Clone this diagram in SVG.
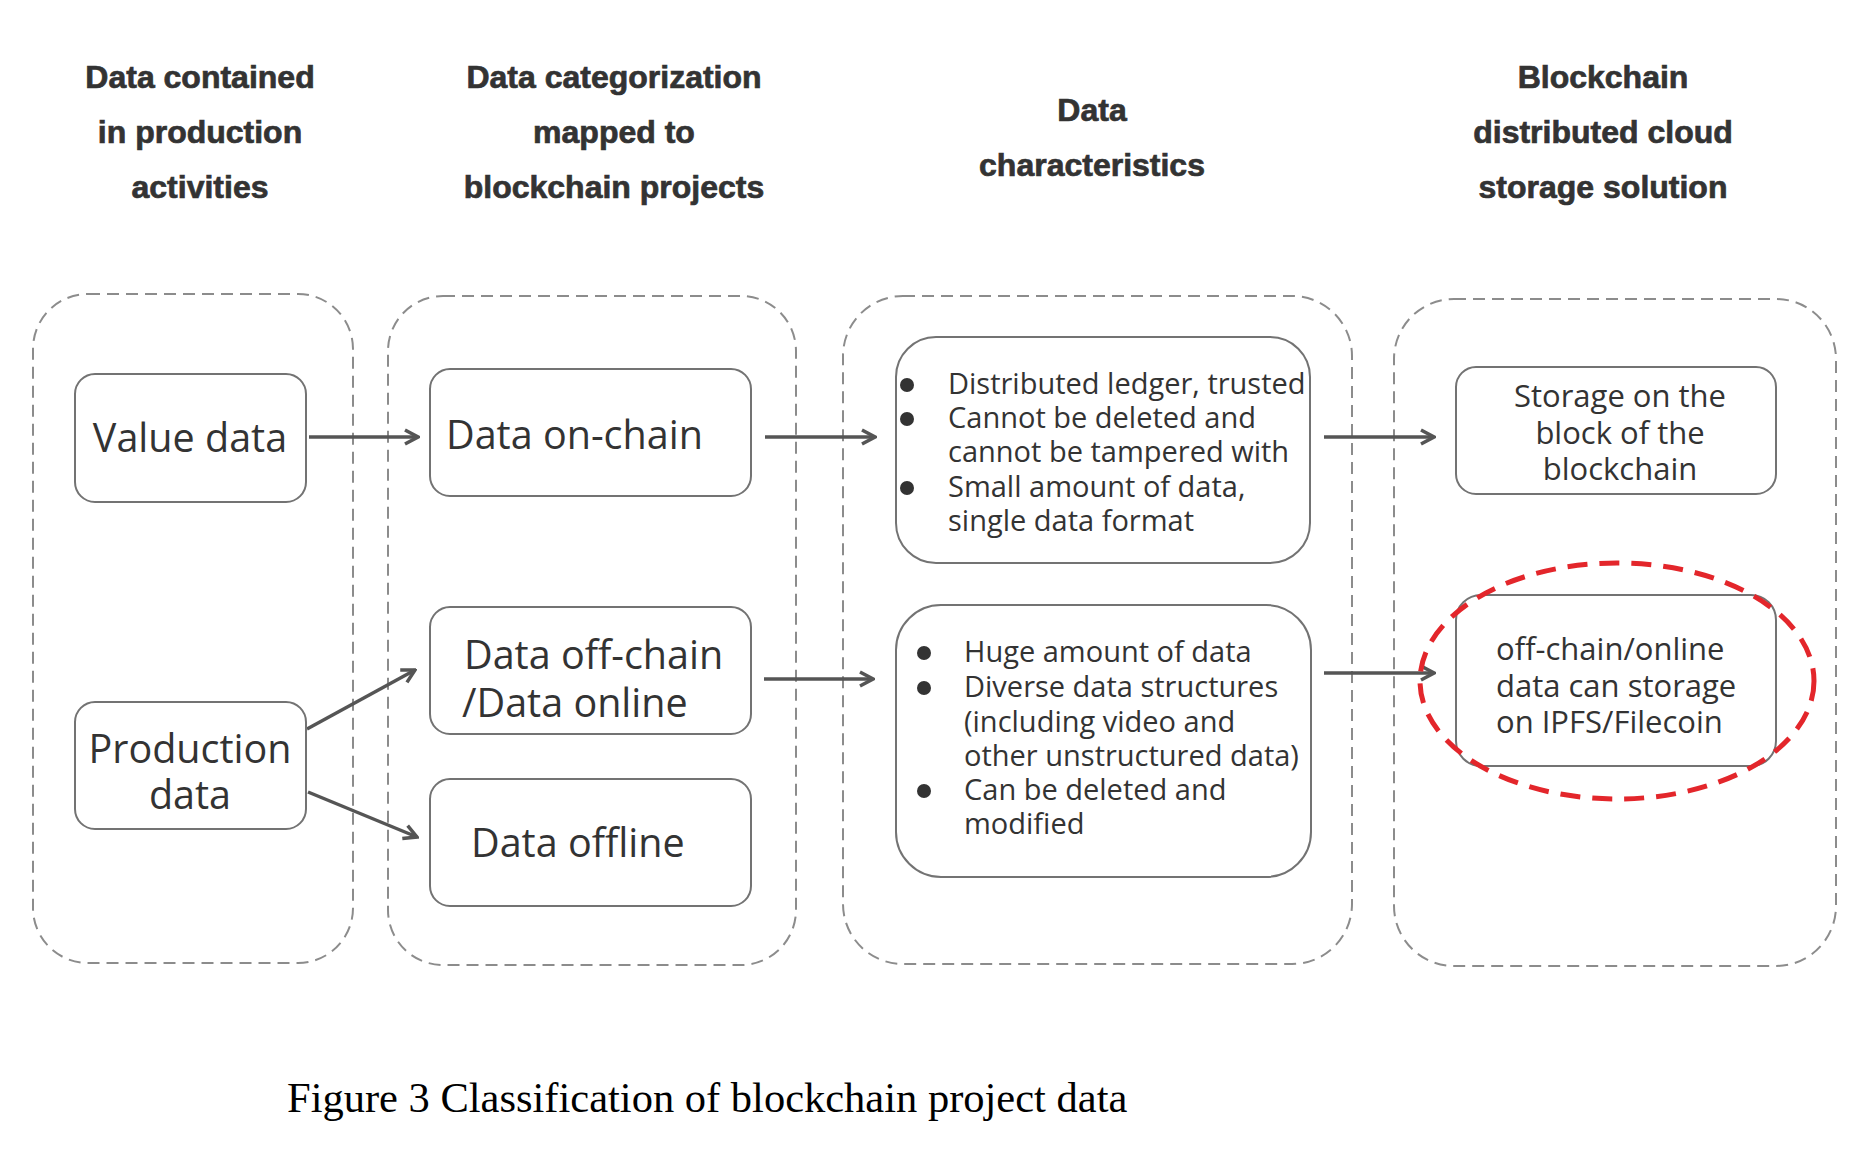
<svg xmlns="http://www.w3.org/2000/svg" width="1874" height="1176" viewBox="0 0 1874 1176">
<defs>
<style>
.grp{fill:none;stroke:#8c8c8c;stroke-width:2;stroke-dasharray:12 7}
.box{fill:#fff;stroke:#737373;stroke-width:2}
.hdr{font-family:"Liberation Sans",Arial,sans-serif;font-weight:bold;font-size:32px;fill:#333;stroke:#333;stroke-width:0.7px;text-anchor:middle}
.big{font-family:"Open Sans","Liberation Sans",sans-serif;font-size:39.5px;fill:#333}
.mid{font-family:"Open Sans","Liberation Sans",sans-serif;font-size:29px;fill:#333}
.rt{font-family:"Open Sans","Liberation Sans",sans-serif;font-size:31px;fill:#333}
.bul{fill:#333}
.con{fill:none;stroke:#555;stroke-width:3.5;marker-end:url(#arr)}
</style>
<marker id="arr" viewBox="0 0 18 18" refX="16" refY="9" markerWidth="18" markerHeight="18" markerUnits="userSpaceOnUse" orient="auto">
<path d="M3,2 L16,9 L3,16" fill="none" stroke="#555" stroke-width="3.5"/>
</marker>
</defs>
<rect width="1874" height="1176" fill="#fff"/>

<g id="headers">
<text class="hdr" x="200" y="88">Data contained</text>
<text class="hdr" x="200" y="143">in production</text>
<text class="hdr" x="200" y="198">activities</text>
<text class="hdr" x="614" y="88">Data categorization</text>
<text class="hdr" x="614" y="143">mapped to</text>
<text class="hdr" x="614" y="198">blockchain projects</text>
<text class="hdr" x="1092" y="121">Data</text>
<text class="hdr" x="1092" y="176">characteristics</text>
<text class="hdr" x="1603" y="88">Blockchain</text>
<text class="hdr" x="1603" y="143">distributed cloud</text>
<text class="hdr" x="1603" y="198">storage solution</text>
</g>

<g id="groups">
<rect id="group1" class="grp" x="33" y="294" width="320" height="669" rx="55"/>
<rect id="group2" class="grp" x="388" y="296" width="408" height="669" rx="55"/>
<rect id="group3" class="grp" x="843" y="296" width="509" height="668" rx="60"/>
<rect id="group4" class="grp" x="1394" y="299" width="442" height="667" rx="60"/>
</g>

<g id="connectors">
<line class="con" x1="309" y1="437" x2="418" y2="437"/>
<line class="con" x1="307" y1="729" x2="415" y2="670"/>
<line class="con" x1="308" y1="792" x2="417" y2="837"/>
<line class="con" x1="765" y1="437" x2="875" y2="437"/>
<line class="con" x1="764" y1="679" x2="873" y2="679"/>
<line class="con" x1="1324" y1="437" x2="1434" y2="437"/>
<line class="con" x1="1324" y1="673" x2="1434" y2="673"/>
</g>

<g id="value-data">
<rect class="box" x="75" y="374" width="231" height="128" rx="20"/>
<text class="big" x="190" y="452" text-anchor="middle">Value data</text>
</g>
<g id="production-data">
<rect class="box" x="75" y="702" width="231" height="127" rx="20"/>
<text class="big" x="190" y="763" text-anchor="middle">Production</text>
<text class="big" x="190" y="809" text-anchor="middle">data</text>
</g>
<g id="data-on-chain">
<rect class="box" x="430" y="369" width="321" height="127" rx="20"/>
<text class="big" x="446" y="449">Data on-chain</text>
</g>
<g id="data-off-chain">
<rect class="box" x="430" y="607" width="321" height="127" rx="20"/>
<text class="big" x="464" y="669">Data off-chain</text>
<text class="big" x="462" y="717">/Data online</text>
</g>
<g id="data-offline">
<rect class="box" x="430" y="779" width="321" height="127" rx="20"/>
<text class="big" x="471" y="857">Data offline</text>
</g>
<g id="chars-on-chain">
<rect class="box" x="896" y="337" width="414" height="226" rx="40"/>
<circle class="bul" cx="907" cy="385" r="7"/>
<circle class="bul" cx="907" cy="419" r="7"/>
<circle class="bul" cx="907" cy="488" r="7"/>
<text class="mid" x="948" y="394">Distributed ledger, trusted</text>
<text class="mid" x="948" y="428">Cannot be deleted and</text>
<text class="mid" x="948" y="462">cannot be tampered with</text>
<text class="mid" x="948" y="497">Small amount of data,</text>
<text class="mid" x="948" y="531">single data format</text>
</g>
<g id="chars-off-chain">
<rect class="box" x="896" y="605" width="415" height="272" rx="45"/>
<circle class="bul" cx="924" cy="653" r="7"/>
<circle class="bul" cx="924" cy="688" r="7"/>
<circle class="bul" cx="924" cy="791" r="7"/>
<text class="mid" x="964" y="662">Huge amount of data</text>
<text class="mid" x="964" y="697">Diverse data structures</text>
<text class="mid" x="964" y="732">(including video and</text>
<text class="mid" x="964" y="766">other unstructured data)</text>
<text class="mid" x="964" y="800">Can be deleted and</text>
<text class="mid" x="964" y="834">modified</text>
</g>
<g id="storage-block">
<rect class="box" x="1456" y="367" width="320" height="127" rx="20"/>
<text class="rt" x="1620" y="407" text-anchor="middle">Storage on the</text>
<text class="rt" x="1620" y="444" text-anchor="middle">block of the</text>
<text class="rt" x="1620" y="480" text-anchor="middle">blockchain</text>
</g>
<g id="storage-ipfs">
<rect class="box" x="1456" y="595" width="320" height="171" rx="25"/>
<text class="rt" x="1496" y="660">off-chain/online</text>
<text class="rt" x="1496" y="697">data can storage</text>
<text class="rt" x="1496" y="733">on IPFS/Filecoin</text>
<ellipse cx="1617" cy="681" rx="197" ry="118" fill="none" stroke="#e3262b" stroke-width="5" stroke-dasharray="20 12"/>
</g>

<text x="287" y="1112" font-family="'Liberation Serif','Times New Roman',serif" font-size="42.5" fill="#000">Figure 3 Classification of blockchain project data</text>
</svg>
